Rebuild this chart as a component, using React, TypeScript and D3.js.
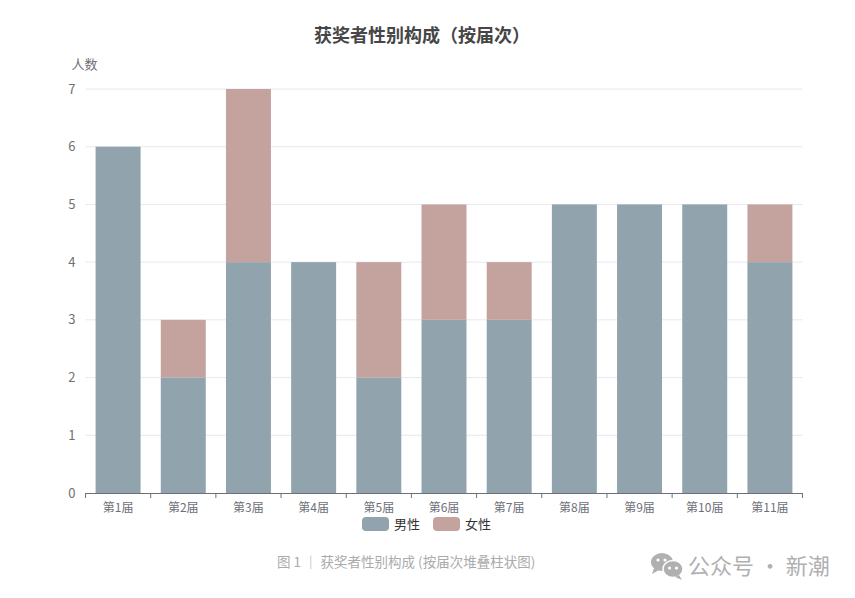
import * as d3 from 'd3';
import { useEffect, useRef } from 'react';

const categories = ['第1届', '第2届', '第3届', '第4届', '第5届', '第6届', '第7届', '第8届', '第9届', '第10届', '第11届'];
const maleValues = [6, 2, 4, 4, 2, 3, 3, 5, 5, 5, 4];
const femaleValues = [0, 1, 3, 0, 2, 2, 1, 0, 0, 0, 1];
const seriesNames = ['男性', '女性'];
const yTicks = [0, 1, 2, 3, 4, 5, 6, 7];

const colors = ['#91a4ad', '#c4a39f'];
const FONT = '"Microsoft YaHei", "Noto Sans CJK SC", sans-serif';

const App = () => {
    const ref = useRef<SVGSVGElement>(null);
    useEffect(() => {
        draw();
    }, []);
    const draw = () => {
        const W = 855, H = 598;
        const margin = { top: 89, right: 52.5, bottom: 105, left: 85.5 };
        const width = W - margin.left - margin.right;
        const height = H - margin.top - margin.bottom;

        const svg = d3.select(ref.current);
        svg.selectAll('*').remove();
        svg.attr('width', W).attr('height', H).style('display', 'block').style('background', '#fff');

        // title
        svg.append('text')
            .attr('x', 422).attr('y', 42)
            .attr('text-anchor', 'middle')
            .style('font-family', FONT).style('font-size', '18px').style('font-weight', 'bold')
            .attr('fill', '#464646')
            .text('获奖者性别构成（按届次）');

        const g = svg.append('g').attr('transform', `translate(${margin.left},${margin.top})`);

        const x = d3.scaleBand().domain(categories).range([0, width]).padding(0);
        const y = d3.scaleLinear().domain([0, 7]).range([height, 0]);

        // grid
        g.selectAll('.grid').data(yTicks.filter(t => t > 0)).enter().append('line')
            .attr('x1', 0).attr('x2', width)
            .attr('y1', d => y(d)).attr('y2', d => y(d))
            .attr('stroke', '#e6e9f0').attr('stroke-width', 1);

        // y labels
        g.selectAll('.ylab').data(yTicks).enter().append('text')
            .attr('x', -10).attr('y', d => y(d))
            .attr('dy', '0.35em').attr('text-anchor', 'end')
            .style('font-family', FONT).style('font-size', '13px')
            .attr('fill', '#6e7079')
            .text(d => d);

        g.append('text')
            .attr('x', -1).attr('y', -20)
            .attr('text-anchor', 'middle')
            .style('font-family', FONT).style('font-size', '13px')
            .attr('fill', '#6e7079')
            .text('人数');

        // stacked bars
        const rows = categories.map((c, i) => ({ cat: c, male: maleValues[i], female: femaleValues[i] }));
        const stack = d3.stack<any>().keys(['male', 'female'])(rows);
        const bw = x.bandwidth() * 0.69;
        stack.forEach((layer, li) => {
            g.selectAll('.bar' + li).data(layer).enter().append('rect')
                .attr('x', (d: any) => (x(d.data.cat) as number) + (x.bandwidth() - bw) / 2)
                .attr('width', bw)
                .attr('y', (d: any) => y(d[1]))
                .attr('height', (d: any) => y(d[0]) - y(d[1]))
                .attr('fill', colors[li]);
        });

        // x axis
        const xa = g.append('g').attr('transform', `translate(0,${height})`);
        xa.append('line').attr('x1', 0).attr('x2', width).attr('y1', 0.5).attr('y2', 0.5)
            .attr('stroke', '#6e7079');
        const bounds = categories.map(c => x(c) as number).concat([width]);
        xa.selectAll('.tick').data(bounds).enter().append('line')
            .attr('x1', d => d).attr('x2', d => d).attr('y1', 0).attr('y2', 5)
            .attr('stroke', '#6e7079');
        xa.selectAll('.xlab').data(categories).enter().append('text')
            .attr('x', d => (x(d) as number) + x.bandwidth() / 2)
            .attr('y', 19)
            .attr('text-anchor', 'middle')
            .style('font-family', FONT).style('font-size', '12px')
            .attr('fill', '#6e7079')
            .text(d => d);

        // legend
        const lg = svg.append('g').attr('transform', 'translate(362,517)');
        const offs = [0, 71];
        seriesNames.forEach((n, i) => {
            lg.append('rect').attr('x', offs[i]).attr('y', 0).attr('width', 27).attr('height', 14)
                .attr('rx', 4).attr('fill', colors[i]);
            lg.append('text').attr('x', offs[i] + 32).attr('y', 7).attr('dy', '0.35em')
                .style('font-family', FONT).style('font-size', '13px')
                .attr('fill', '#333').text(n);
        });

        // caption
        svg.append('text')
            .attr('x', 277).attr('y', 567)
            .style('font-family', FONT).style('font-size', '13.5px')
            .attr('fill', '#ababab')
            .text('图 1 ｜ 获奖者性别构成 (按届次堆叠柱状图)');

        // watermark icon
        const ic = svg.append('g').attr('transform', 'translate(651,553)').attr('fill', '#b0b0b0');
        ic.append('ellipse').attr('cx', 11).attr('cy', 9).attr('rx', 11).attr('ry', 9);
        ic.append('path').attr('d', 'M3,15 L1,21 L8,17 Z');
        ic.append('ellipse').attr('cx', 22).attr('cy', 16).attr('rx', 10).attr('ry', 8.5).attr('stroke', '#fff').attr('stroke-width', 1.5);
        ic.append('path').attr('d', 'M28,22 L31,27 L24,24 Z');
        [[7, 7], [14, 7]].forEach(p => ic.append('circle').attr('cx', p[0]).attr('cy', p[1]).attr('r', 1.6).attr('fill', '#fff'));
        [[18.5, 15], [25.5, 15]].forEach(p => ic.append('circle').attr('cx', p[0]).attr('cy', p[1]).attr('r', 1.6).attr('fill', '#fff'));

        svg.append('text')
            .attr('x', 688).attr('y', 574)
            .style('font-family', FONT).style('font-size', '22px')
            .attr('fill', '#b0b0b0')
            .text('公众号 · 新潮');
    };
    return (
        <svg ref={ref} style={{ position: 'absolute', left: 0, top: 0 }}></svg>
    );
};
export default App;
